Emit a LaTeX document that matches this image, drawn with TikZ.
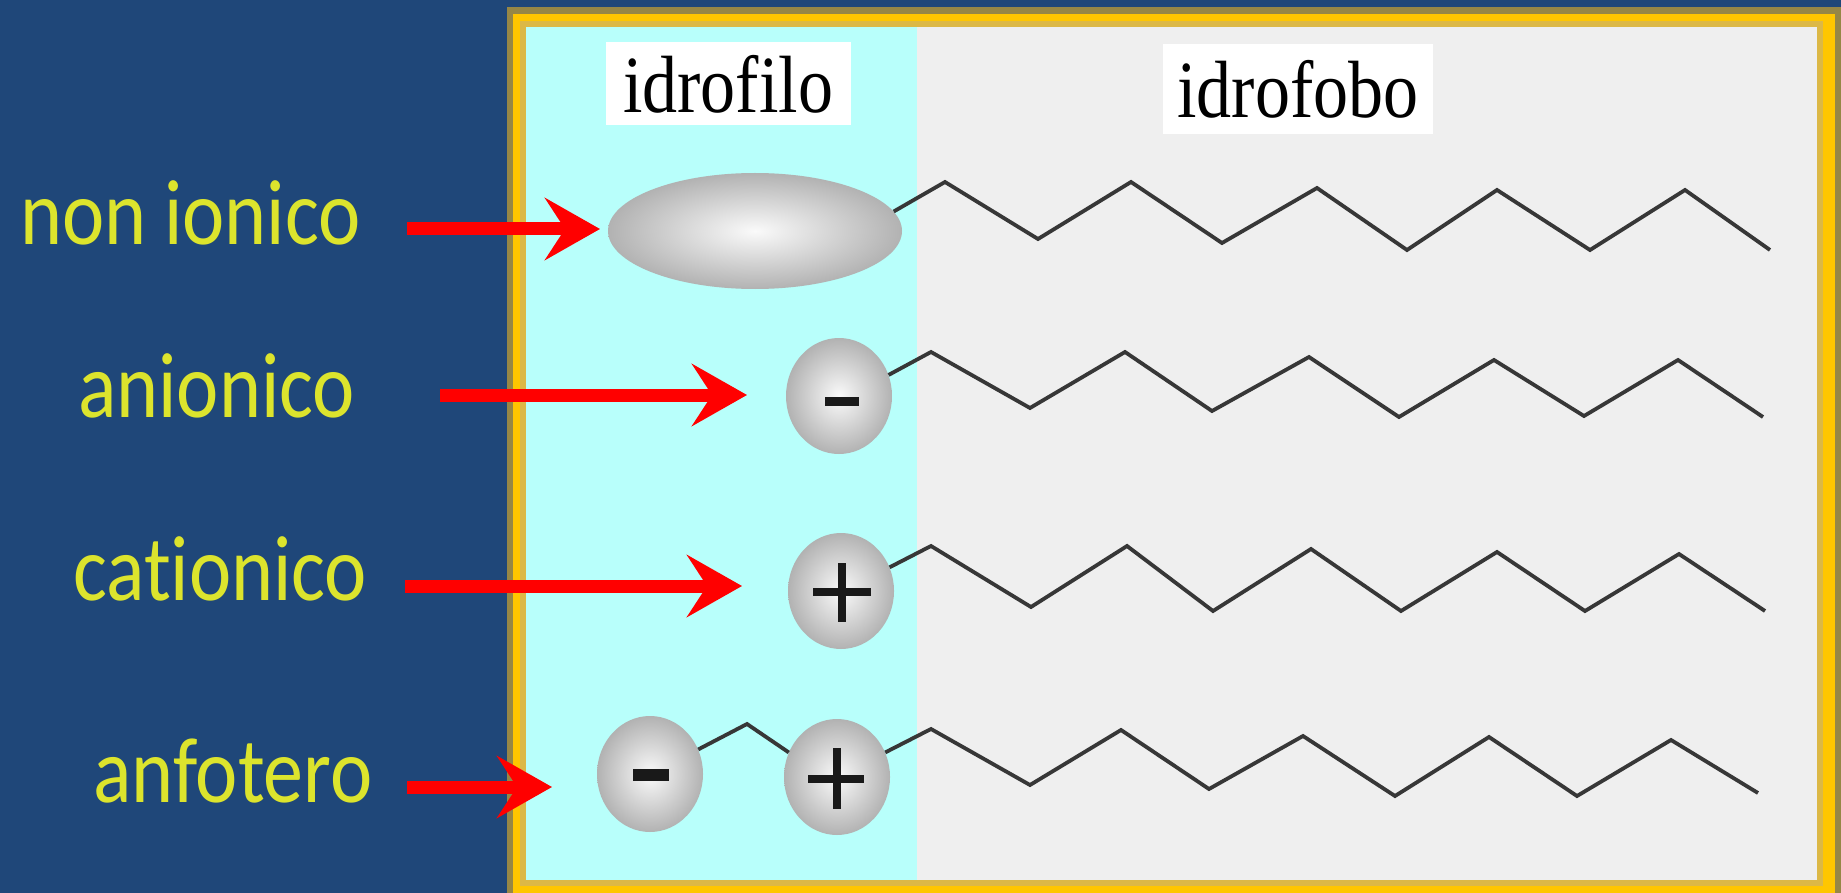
\documentclass[tikz,border=0pt]{standalone}
\usepackage{fontspec}
\usetikzlibrary{shapes.geometric,arrows.meta}
\newfontfamily\labelfont[Ligatures=NoCommon]{Carlito}
\newfontfamily\capfont{Liberation Serif}
\definecolor{navy}{RGB}{31,71,121}
\definecolor{frameolive}{RGB}{150,135,70}
\definecolor{frameyellow}{RGB}{255,198,0}
\definecolor{frametan}{RGB}{220,184,70}
\definecolor{hydrocyan}{RGB}{184,255,251}
\definecolor{tailgray}{RGB}{239,239,239}
\definecolor{labyellow}{RGB}{220,228,45}
\definecolor{chain}{RGB}{55,55,55}
\definecolor{headedge}{RGB}{178,178,178}
\definecolor{headcore}{RGB}{250,250,250}
\definecolor{signink}{RGB}{25,25,25}

\begin{document}
\begin{tikzpicture}[x=1pt,y=-1pt,
  typelabel/.style={anchor=base west, inner sep=0pt, text=labyellow,
    font=\labelfont\fontsize{80}{96}\selectfont},
  regionlabel/.style={fill=white, inner sep=0pt, text=black,
    font=\capfont\fontsize{70}{84}\selectfont},
  headgroup/.style={ellipse, inner sep=0pt, shading=radial,
    inner color=headcore, outer color=headedge},
  ion/.style={headgroup, minimum width=106pt, minimum height=116pt},
  tail/.style={draw=chain, line width=3.8pt, line join=miter},
  pointer/.style={draw=red, line width=13pt,
    -{Stealth[length=55pt, width=62pt, inset=20pt]}},
  plusbar/.style={draw=signink, line width=8pt},
]
\useasboundingbox (0,0) rectangle (1841,893);

% page and frame
\fill[navy] (0,0) rectangle (1841,893);
\fill[frameolive] (507,7) rectangle (1841,893);
\fill[frameyellow] (513,14) rectangle (1835,893);
\fill[frametan] (520,21) rectangle (1823,886);
\fill[hydrocyan] (526,27) rectangle (917,880);
\fill[tailgray] (917,27) rectangle (1817,880);

% region captions
\node[regionlabel, minimum width=245pt, minimum height=83pt] (philic) at (728,84)
  {\scalebox{1}[1.16]{idrofilo}};
\node[regionlabel, minimum width=270pt, minimum height=90pt] (phobic) at (1298,89)
  {\scalebox{1}[1.16]{idrofobo}};

% polar heads
\node[headgroup, minimum width=294pt, minimum height=116pt] (nonionic) at (755,231) {};
\node[ion] (anion) at (839,396) {};
\node[ion] (cation) at (841,591) {};
\node[ion] (zwminus) at (650,774) {};
\node[ion] (zwplus) at (837,777) {};

% charge signs
\fill[signink] (825,397) rectangle (859,406);
\fill[signink] (633,769) rectangle (669,781);
\draw[plusbar] (813,592) -- (871,592);
\draw[plusbar] (842,563) -- (842,622);
\draw[plusbar] (808,779) -- (864,779);
\draw[plusbar] (837,748) -- (837,809);

% hydrocarbon tails
\draw[tail] (nonionic.8) -- (945,182) -- (1038,239) -- (1131,182) -- (1222,243)
  -- (1317,188) -- (1407,250) -- (1497,190) -- (1590,250) -- (1685,190) -- (1770,250);
\draw[tail] (anion.23) -- (931,352) -- (1030,408) -- (1125,352) -- (1212,411)
  -- (1309,357) -- (1399,417) -- (1494,360) -- (1584,416) -- (1678,360) -- (1763,417);
\draw[tail] (cation.26) -- (931,546) -- (1031,607) -- (1127,546) -- (1213,611)
  -- (1311,549) -- (1401,611) -- (1497,552) -- (1585,611) -- (1679,554) -- (1765,611);
\draw[tail] (zwminus.27) -- (747,724) -- (zwplus.153);
\draw[tail] (zwplus.27) -- (931,729) -- (1030,785) -- (1121,730) -- (1209,789)
  -- (1303,736) -- (1395,796) -- (1489,737) -- (1577,796) -- (1671,740) -- (1758,793);

% surfactant classes
\node[typelabel] (tnon) at (20,245) {\scalebox{1}[1.16]{non ionico}};
\node[typelabel] (tani) at (78,417) {\scalebox{1}[1.16]{anionico}};
\node[typelabel] (tcat) at (73,600) {\scalebox{1}[1.16]{cationico}};
\node[typelabel] (tamp) at (93,802) {\scalebox{1}[1.16]{anfotero}};

% pointers
\coordinate (p1) at (407,229); \coordinate (q1) at (600,229);
\coordinate (p2) at (440,395); \coordinate (q2) at (747,395);
\coordinate (p3) at (405,586); \coordinate (q3) at (742,586);
\coordinate (p4) at (407,787); \coordinate (q4) at (552,787);
\draw[pointer] (p1) -- (q1);
\draw[pointer] (p2) -- (q2);
\draw[pointer] (p3) -- (q3);
\draw[pointer] (p4) -- (q4);
\end{tikzpicture}
\end{document}
